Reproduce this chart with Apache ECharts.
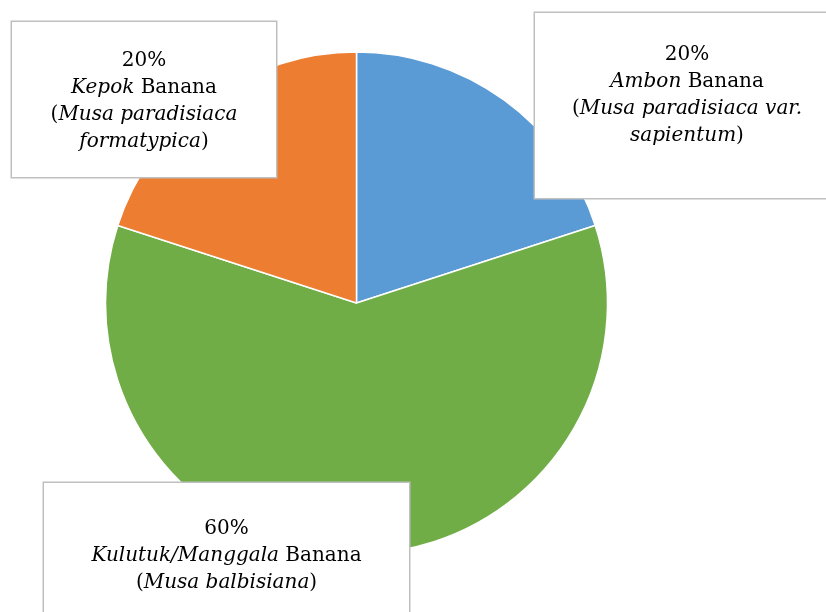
<!DOCTYPE html>
<html>
<head>
<meta charset="utf-8">
<script src="https://cdn.jsdelivr.net/npm/echarts@6/dist/echarts.min.js"></script>
<style>
  html, body { margin: 0; padding: 0; background: #fff; }
  #chart { width: 826px; height: 612px; }
</style>
</head>
<body>
<div id="chart"></div>
<script>
// banana types, clockwise from 12 o'clock
const localNames = ['Ambon', 'Kulutuk/Manggala', 'Kepok']
const latinNames = [
  ['Musa paradisiaca var.', 'sapientum'],
  ['Musa balbisiana'],
  ['Musa paradisiaca', 'formatypica']
]
const shares = [20, 60, 20]
const colors = ['#5B9BD5', '#70AD47', '#ED7D31']

// label boxes: centre x, top y, width, height, padding top
const boxes = [
  { cx: 687, top: 13, w: 304, h: 185, pad: 28 },
  { cx: 226.5, top: 483, w: 365, h: 150, pad: 32 },
  { cx: 144, top: 22, w: 264, h: 155, pad: 25 }
]

const FONT = 'DejaVu Serif'

function labelText (p) {
  const i = p.dataIndex
  const latin = latinNames[i]
  let s = '{n|' + p.percent + '%}\n{i|' + localNames[i] + '}{n| Banana}\n{n|(}{i|' + latin[0] + '}'
  if (latin.length > 1) {
    s += '\n{i|' + latin[1] + '}{n|)}'
  } else {
    s += '{n|)}'
  }
  return s
}

const chart = echarts.init(document.getElementById('chart'))
chart.setOption({
  animation: false,
  series: [{
    type: 'pie',
    center: [356.5, 303],
    radius: 251,
    startAngle: 90,
    clockwise: true,
    avoidLabelOverlap: false,
    itemStyle: { borderColor: '#fff', borderWidth: 1.5 },
    emphasis: { disabled: true },
    labelLine: { show: false },
    label: {
      show: true,
      position: 'outside',
      formatter: labelText,
      backgroundColor: '#fff',
      borderColor: '#BFBFBF',
      borderWidth: 1.5,
      rich: {
        n: { fontFamily: FONT, fontSize: 20, lineHeight: 27, color: '#000' },
        i: { fontFamily: FONT, fontSize: 20, lineHeight: 27, color: '#000', fontStyle: 'italic' }
      }
    },
    labelLayout: function (params) {
      const b = boxes[params.dataIndex]
      return { x: b.cx, y: b.top, align: 'center', verticalAlign: 'top' }
    },
    data: shares.map(function (v, i) {
      const b = boxes[i]
      return {
        value: v,
        name: localNames[i],
        itemStyle: { color: colors[i] },
        label: { width: b.w, height: b.h - b.pad, padding: [b.pad, 0, 0, 0] }
      }
    })
  }]
})
</script>
</body>
</html>
